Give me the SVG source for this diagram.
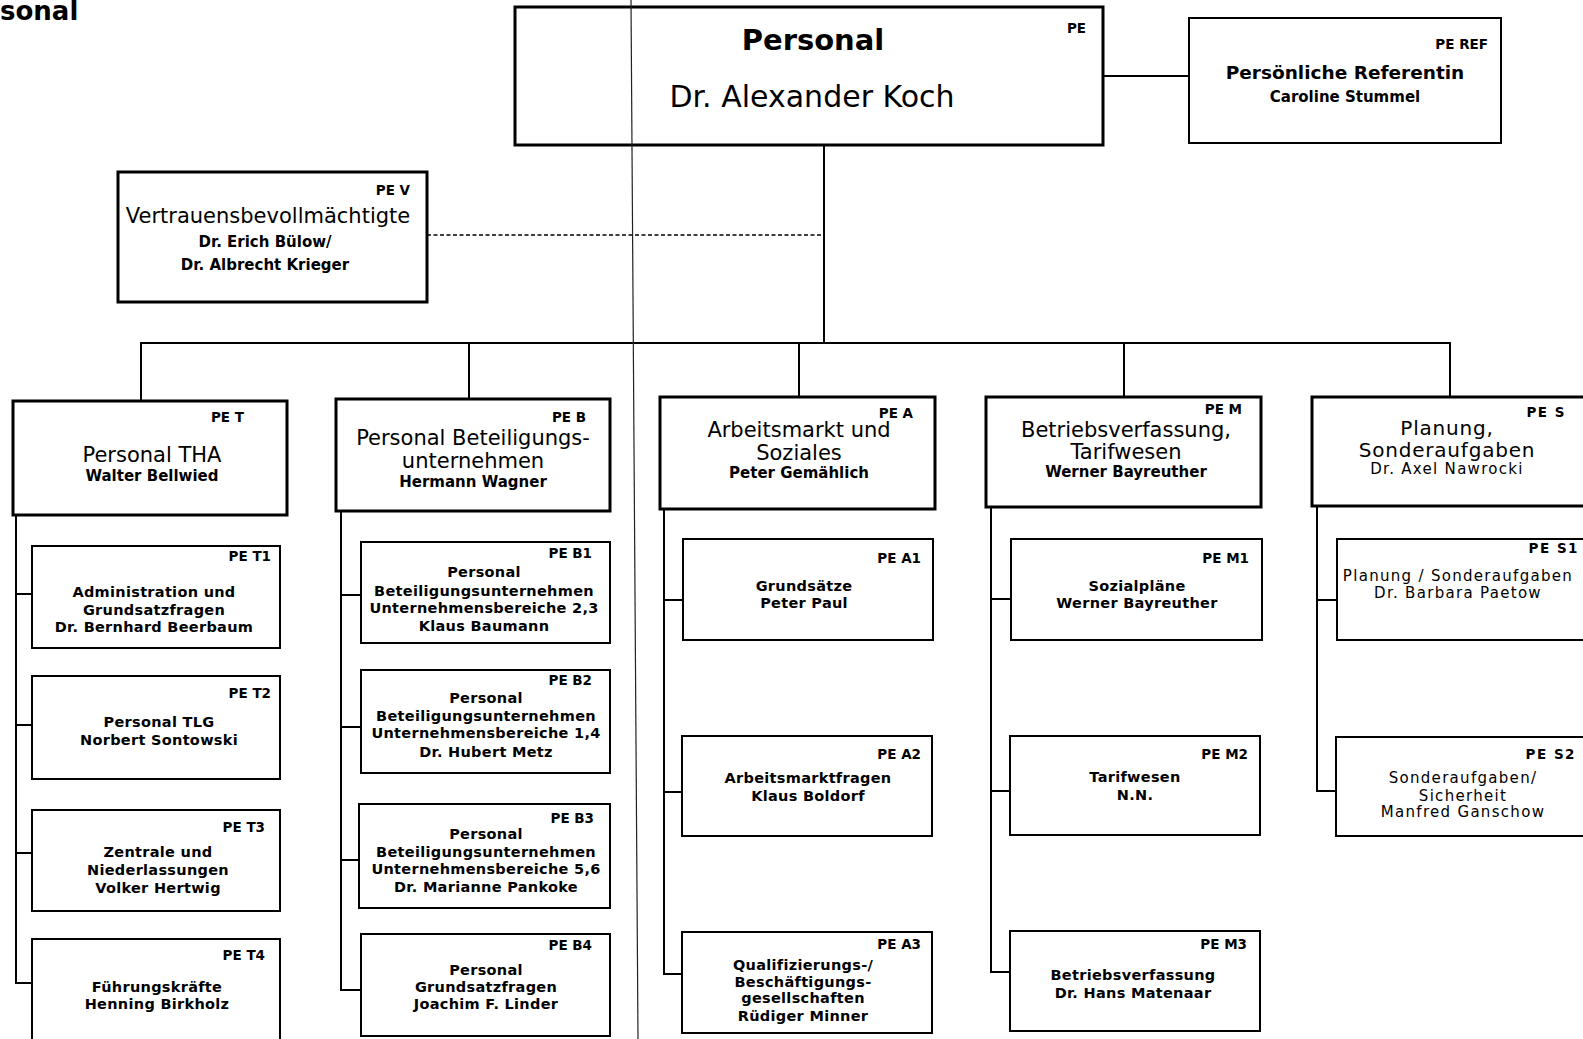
<svg xmlns="http://www.w3.org/2000/svg" width="1583" height="1039" viewBox="0 0 1583 1039">
  <style>
    .box { fill: #fff; stroke: #000; stroke-width: 3; }
    .sub { fill: #fff; stroke: #000; stroke-width: 2; }
    .conn { fill: none; stroke: #000; stroke-width: 2; }
    .dash { stroke-dasharray: 4 2.5; stroke-width: 1.6; }
    .fold { fill: none; stroke: #222; stroke-width: 1.2; }
    text { fill: #000; font-family: "DejaVu Sans", "Liberation Sans", sans-serif; }
    .code { font-size: 13.5px; font-weight: bold; text-anchor: end; }
    .head { font-size: 21px; text-anchor: middle; }
    .name { font-size: 15px; font-weight: bold; text-anchor: middle; }
    .st { font-size: 14.5px; font-weight: bold; text-anchor: middle; letter-spacing: 0.3px; }
    .lt { font-size: 15px; text-anchor: middle; letter-spacing: 1.3px; }
    .lh { font-size: 20px; text-anchor: middle; letter-spacing: 0.8px; }
  </style>

  <rect width="1583" height="1039" fill="#fff"/>

  <!-- page title fragment -->
  <text x="0" y="19.5" font-size="26" font-weight="bold">sonal</text>

  <!-- connectors -->
  <g id="connectors">
    <line class="conn" x1="1103" y1="76" x2="1189" y2="76"/>
    <line class="conn" x1="824" y1="146" x2="824" y2="343"/>
    <line class="conn dash" x1="427" y1="235" x2="821" y2="235"/>
    <line class="conn" x1="140" y1="343" x2="1451" y2="343"/>
    <line class="conn" x1="141" y1="343" x2="141" y2="401"/>
    <line class="conn" x1="469" y1="343" x2="469" y2="399"/>
    <line class="conn" x1="799" y1="343" x2="799" y2="397"/>
    <line class="conn" x1="1124" y1="343" x2="1124" y2="397"/>
    <line class="conn" x1="1450" y1="343" x2="1450" y2="397"/>
    <!-- PE T branch -->
    <path class="conn" d="M16 515 V983 H32 M16 594 H32 M16 725 H32 M16 853 H32"/>
    <!-- PE B branch -->
    <path class="conn" d="M341 511 V990 H361 M341 595 H361 M341 727 H361 M341 860 H359"/>
    <!-- PE A branch -->
    <path class="conn" d="M664 509 V974 H682 M664 600 H683 M664 792 H682"/>
    <!-- PE M branch -->
    <path class="conn" d="M991 507 V972 H1010 M991 599 H1011 M991 791 H1010"/>
    <!-- PE S branch -->
    <path class="conn" d="M1317 506 V791 H1336 M1317 600 H1337"/>
  </g>

  <!-- top level -->
  <g id="pe">
    <rect class="box" x="515" y="7" width="588" height="138"/>
    <text x="813" y="50" font-family="Liberation Sans, Arial, sans-serif" font-size="29" font-weight="bold" text-anchor="middle">Personal</text>
    <text x="812" y="107" font-size="30" text-anchor="middle">Dr. Alexander Koch</text>
    <text class="code" x="1086" y="33">PE</text>
  </g>

  <g id="pe-ref">
    <rect class="sub" x="1189" y="18" width="312" height="125"/>
    <text class="code" x="1488" y="49">PE REF</text>
    <text x="1345" y="79" font-size="18.5" font-weight="bold" text-anchor="middle">Persönliche Referentin</text>
    <text class="name" x="1345" y="102">Caroline Stummel</text>
  </g>

  <g id="pe-v">
    <rect class="box" x="118" y="172" width="309" height="130"/>
    <text class="code" x="410" y="195">PE V</text>
    <text class="head" x="268" y="223">Vertrauensbevollmächtigte</text>
    <text class="name" x="265" y="247">Dr. Erich Bülow/</text>
    <text class="name" x="265" y="270">Dr. Albrecht Krieger</text>
  </g>

  <!-- departments -->
  <g id="pe-t">
    <rect class="box" x="13" y="401" width="274" height="114"/>
    <text class="code" x="244" y="422">PE T</text>
    <text class="head" x="152" y="462">Personal THA</text>
    <text class="name" x="152" y="481">Walter Bellwied</text>
  </g>
  <g id="pe-b">
    <rect class="box" x="336" y="399" width="274" height="112"/>
    <text class="code" x="586" y="422">PE B</text>
    <text class="head" x="473" y="445">Personal Beteiligungs-</text>
    <text class="head" x="473" y="468">unternehmen</text>
    <text class="name" x="473" y="487">Hermann Wagner</text>
  </g>
  <g id="pe-a">
    <rect class="box" x="660" y="397" width="275" height="112"/>
    <text class="code" x="913" y="418">PE A</text>
    <text class="head" x="799" y="437">Arbeitsmarkt und</text>
    <text class="head" x="799" y="460">Soziales</text>
    <text class="name" x="799" y="478">Peter Gemählich</text>
  </g>
  <g id="pe-m">
    <rect class="box" x="986" y="397" width="275" height="110"/>
    <text class="code" x="1242" y="414">PE M</text>
    <text class="head" x="1126" y="437">Betriebsverfassung,</text>
    <text class="head" x="1126" y="459">Tarifwesen</text>
    <text class="name" x="1126" y="477">Werner Bayreuther</text>
  </g>
  <g id="pe-s">
    <rect class="box" x="1312" y="397" width="290" height="109"/>
    <text class="code" x="1566" y="417" letter-spacing="1.5">PE S</text>
    <text class="lh" x="1447" y="435">Planung,</text>
    <text class="lh" x="1447" y="457">Sonderaufgaben</text>
    <text class="lt" x="1447" y="474">Dr. Axel Nawrocki</text>
  </g>

  <!-- PE T units -->
  <g id="pe-t1">
    <rect class="sub" x="32" y="546" width="248" height="102"/>
    <text class="code" x="271" y="561">PE T1</text>
    <text class="st" x="154" y="597">Administration und</text>
    <text class="st" x="154" y="615">Grundsatzfragen</text>
    <text class="st" x="154" y="632">Dr. Bernhard Beerbaum</text>
  </g>
  <g id="pe-t2">
    <rect class="sub" x="32" y="676" width="248" height="103"/>
    <text class="code" x="271" y="698">PE T2</text>
    <text class="st" x="159" y="727">Personal TLG</text>
    <text class="st" x="159" y="745">Norbert Sontowski</text>
  </g>
  <g id="pe-t3">
    <rect class="sub" x="32" y="810" width="248" height="101"/>
    <text class="code" x="265" y="832">PE T3</text>
    <text class="st" x="158" y="857">Zentrale und</text>
    <text class="st" x="158" y="875">Niederlassungen</text>
    <text class="st" x="158" y="893">Volker Hertwig</text>
  </g>
  <g id="pe-t4">
    <rect class="sub" x="32" y="939" width="248" height="112"/>
    <text class="code" x="265" y="960">PE T4</text>
    <text class="st" x="157" y="992">Führungskräfte</text>
    <text class="st" x="157" y="1009">Henning Birkholz</text>
  </g>

  <!-- PE B units -->
  <g id="pe-b1">
    <rect class="sub" x="361" y="542" width="249" height="101"/>
    <text class="code" x="592" y="558">PE B1</text>
    <text class="st" x="484" y="577">Personal</text>
    <text class="st" x="484" y="596">Beteiligungsunternehmen</text>
    <text class="st" x="484" y="613">Unternehmensbereiche 2,3</text>
    <text class="st" x="484" y="631">Klaus Baumann</text>
  </g>
  <g id="pe-b2">
    <rect class="sub" x="361" y="670" width="249" height="103"/>
    <text class="code" x="592" y="685">PE B2</text>
    <text class="st" x="486" y="703">Personal</text>
    <text class="st" x="486" y="721">Beteiligungsunternehmen</text>
    <text class="st" x="486" y="738">Unternehmensbereiche 1,4</text>
    <text class="st" x="486" y="757">Dr. Hubert Metz</text>
  </g>
  <g id="pe-b3">
    <rect class="sub" x="359" y="804" width="251" height="104"/>
    <text class="code" x="594" y="823">PE B3</text>
    <text class="st" x="486" y="839">Personal</text>
    <text class="st" x="486" y="857">Beteiligungsunternehmen</text>
    <text class="st" x="486" y="874">Unternehmensbereiche 5,6</text>
    <text class="st" x="486" y="892">Dr. Marianne Pankoke</text>
  </g>
  <g id="pe-b4">
    <rect class="sub" x="361" y="934" width="249" height="102"/>
    <text class="code" x="592" y="950">PE B4</text>
    <text class="st" x="486" y="975">Personal</text>
    <text class="st" x="486" y="992">Grundsatzfragen</text>
    <text class="st" x="486" y="1009">Joachim F. Linder</text>
  </g>

  <!-- PE A units -->
  <g id="pe-a1">
    <rect class="sub" x="683" y="539" width="250" height="101"/>
    <text class="code" x="921" y="563">PE A1</text>
    <text class="st" x="804" y="591">Grundsätze</text>
    <text class="st" x="804" y="608">Peter Paul</text>
  </g>
  <g id="pe-a2">
    <rect class="sub" x="682" y="736" width="250" height="100"/>
    <text class="code" x="921" y="759">PE A2</text>
    <text class="st" x="808" y="783">Arbeitsmarktfragen</text>
    <text class="st" x="808" y="801">Klaus Boldorf</text>
  </g>
  <g id="pe-a3">
    <rect class="sub" x="682" y="932" width="250" height="101"/>
    <text class="code" x="921" y="949">PE A3</text>
    <text class="st" x="803" y="970">Qualifizierungs-/</text>
    <text class="st" x="803" y="987">Beschäftigungs-</text>
    <text class="st" x="803" y="1003">gesellschaften</text>
    <text class="st" x="803" y="1021">Rüdiger Minner</text>
  </g>

  <!-- PE M units -->
  <g id="pe-m1">
    <rect class="sub" x="1011" y="539" width="251" height="101"/>
    <text class="code" x="1249" y="563">PE M1</text>
    <text class="st" x="1137" y="591">Sozialpläne</text>
    <text class="st" x="1137" y="608">Werner Bayreuther</text>
  </g>
  <g id="pe-m2">
    <rect class="sub" x="1010" y="736" width="250" height="99"/>
    <text class="code" x="1248" y="759">PE M2</text>
    <text class="st" x="1135" y="782">Tarifwesen</text>
    <text class="st" x="1135" y="800">N.N.</text>
  </g>
  <g id="pe-m3">
    <rect class="sub" x="1010" y="931" width="250" height="100"/>
    <text class="code" x="1247" y="949">PE M3</text>
    <text class="st" x="1133" y="980">Betriebsverfassung</text>
    <text class="st" x="1133" y="998">Dr. Hans Matenaar</text>
  </g>

  <!-- PE S units -->
  <g id="pe-s1">
    <rect class="sub" x="1337" y="539" width="265" height="101"/>
    <text class="code" x="1579" y="553" letter-spacing="1.5">PE S1</text>
    <text class="lt" x="1458" y="581" letter-spacing="1">Planung / Sonderaufgaben</text>
    <text class="lt" x="1458" y="598">Dr. Barbara Paetow</text>
  </g>
  <g id="pe-s2">
    <rect class="sub" x="1336" y="737" width="266" height="99"/>
    <text class="code" x="1576" y="759" letter-spacing="1.5">PE S2</text>
    <text class="lt" x="1463" y="783">Sonderaufgaben/</text>
    <text class="lt" x="1463" y="801">Sicherheit</text>
    <text class="lt" x="1463" y="817">Manfred Ganschow</text>
  </g>

  <!-- fold crease running down the sheet -->
  <line class="fold" x1="631" y1="0" x2="638" y2="1039"/>
</svg>
